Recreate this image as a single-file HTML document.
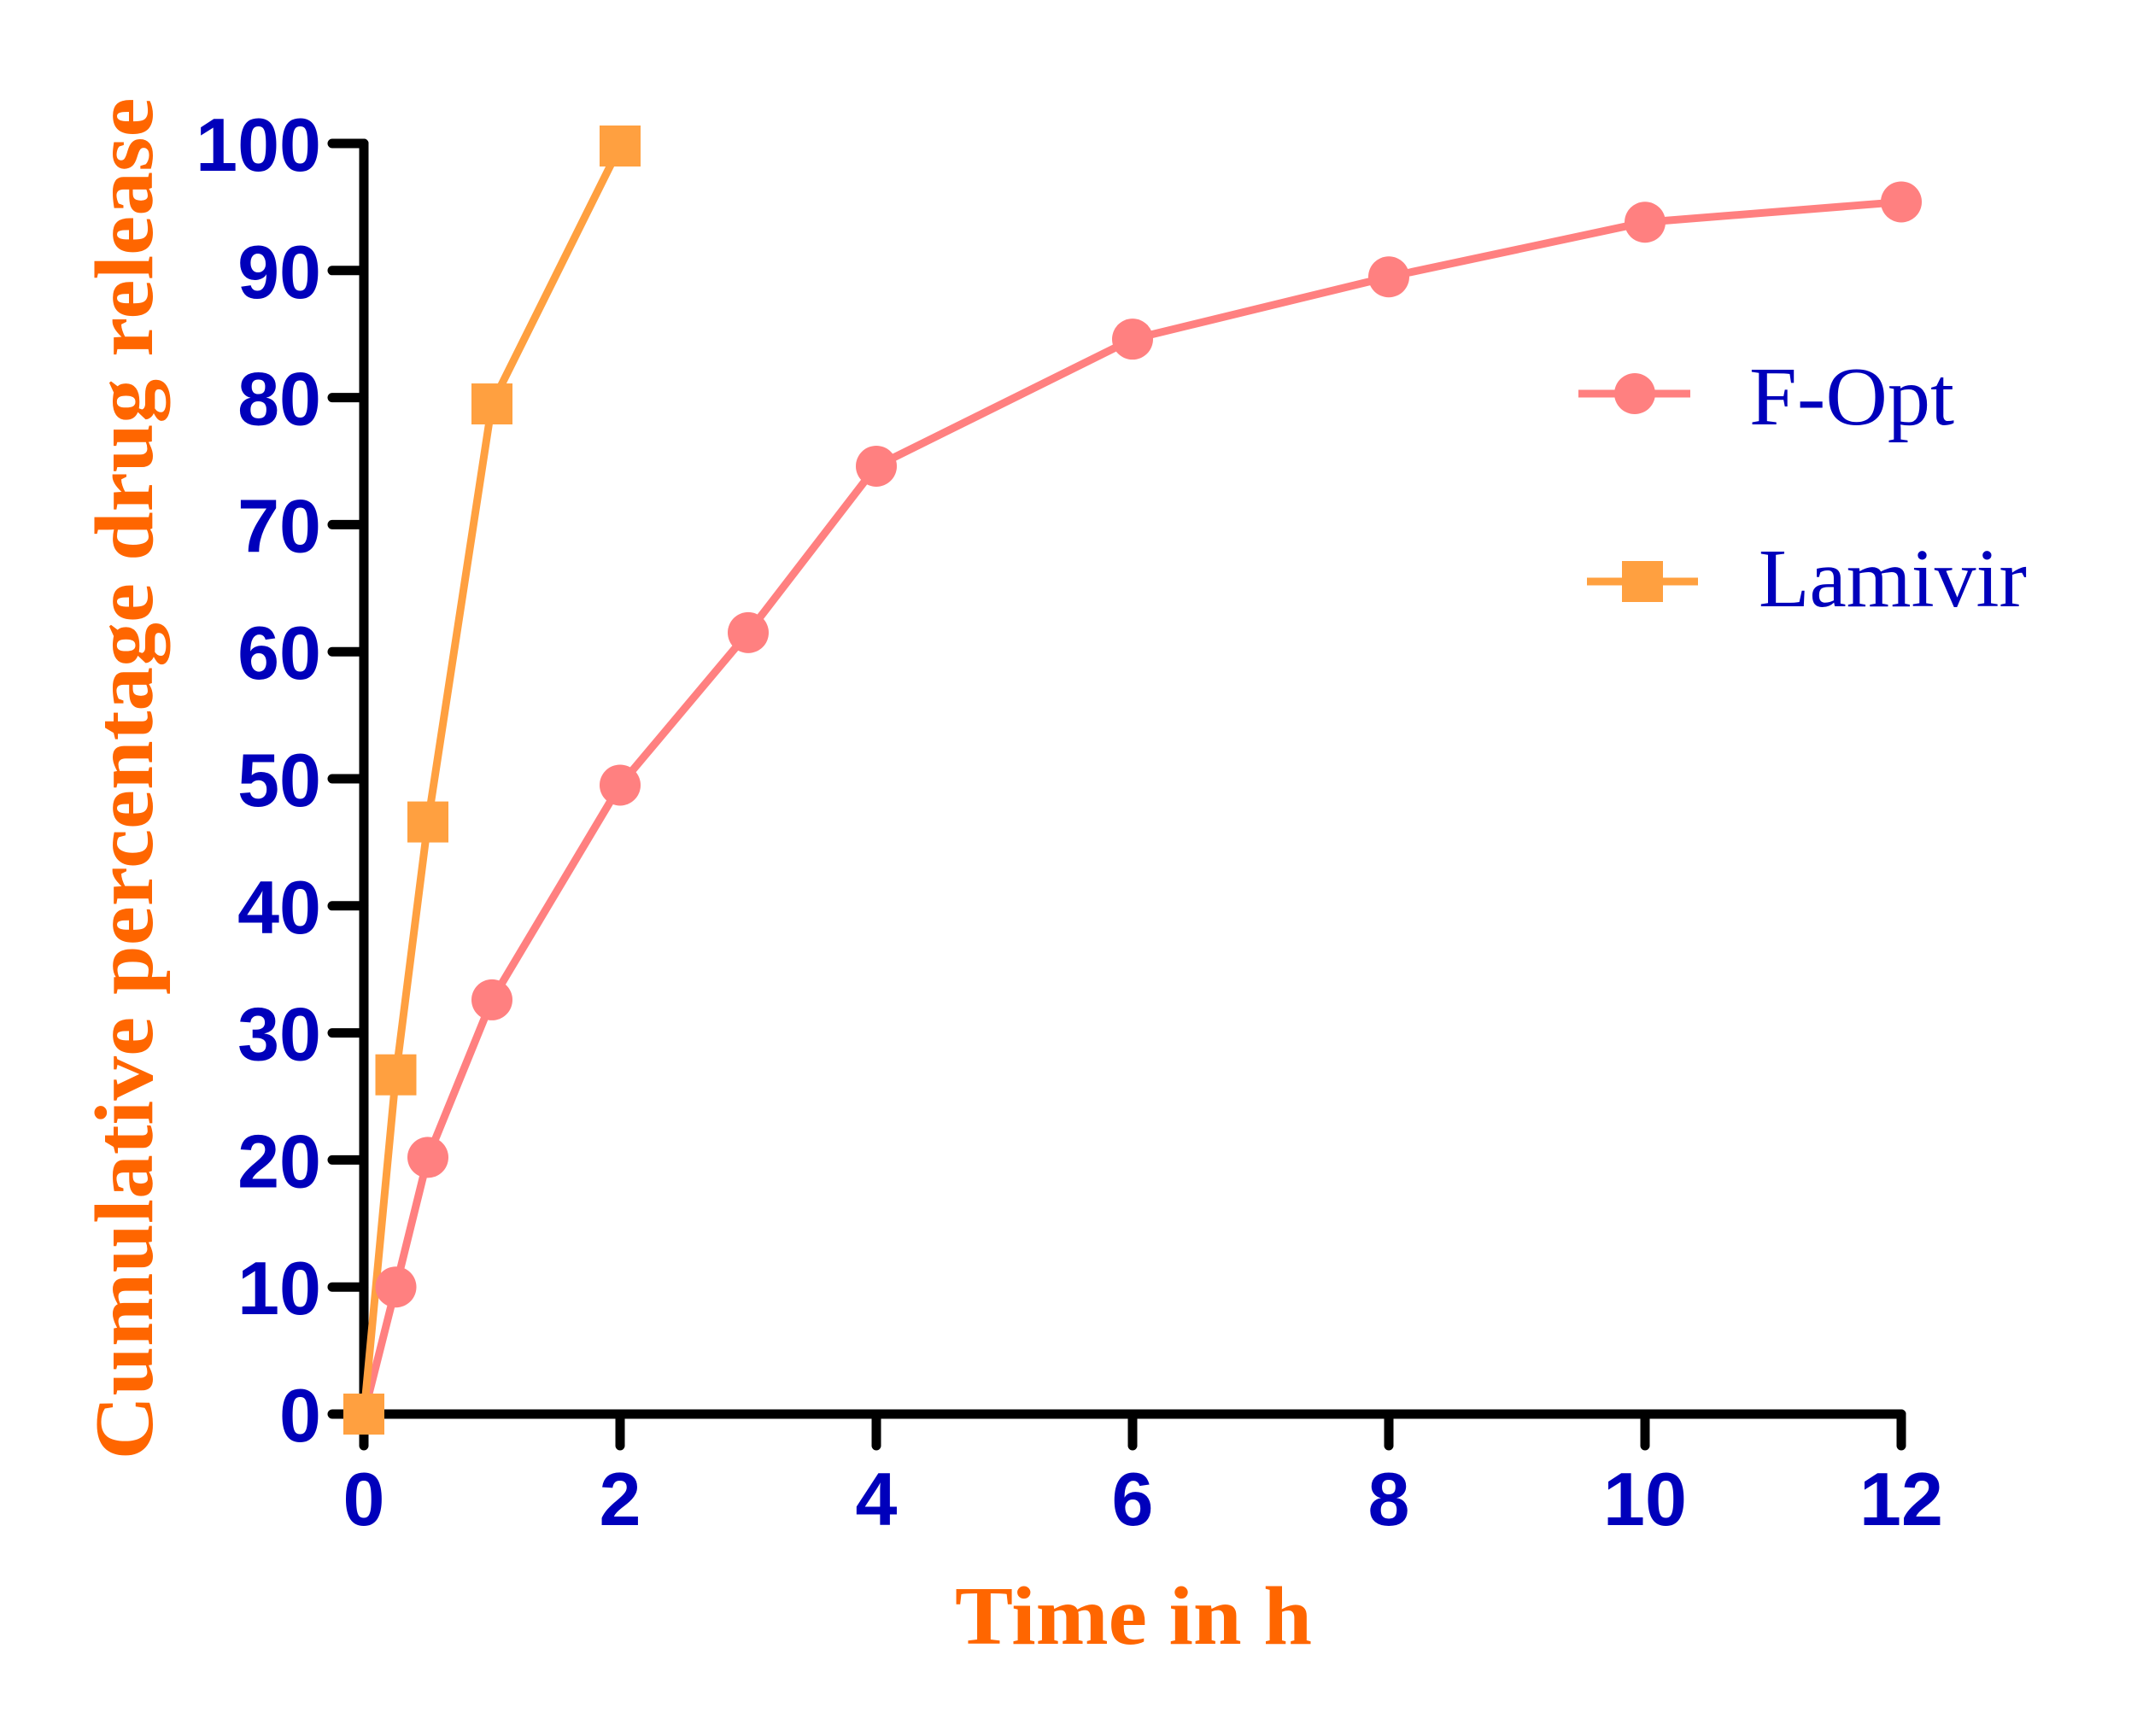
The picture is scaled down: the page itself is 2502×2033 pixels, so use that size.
<!DOCTYPE html>
<html><head><meta charset="utf-8"><style>html,body{margin:0;padding:0;background:#fff}</style></head>
<body>
<svg id="chart" width="2502" height="2028" xmlns="http://www.w3.org/2000/svg">
<g id="axes"></g>
<g id="series"></g>
<text transform="translate(178,912) rotate(-90)" text-anchor="middle" font-family="Liberation Serif, serif" font-weight="bold" font-size="98" fill="#FF6600" textLength="1595" lengthAdjust="spacingAndGlyphs">Cumulative percentage drug release</text>
<text x="1327" y="1925" text-anchor="middle" font-family="Liberation Serif, serif" font-weight="bold" font-size="98" fill="#FF6600" textLength="418" lengthAdjust="spacingAndGlyphs">Time in h</text>
<g>
<line x1="1848" y1="461" x2="1979" y2="461" stroke="#FF8080" stroke-width="9"/>
<circle cx="1914" cy="461" r="24" fill="#FF8080"/>
<text x="2048" y="497" font-family="Liberation Serif, serif" font-size="98" fill="#0000BB" textLength="240" lengthAdjust="spacingAndGlyphs">F-Opt</text>
<line x1="1858" y1="681" x2="1988" y2="681" stroke="#FFA040" stroke-width="9"/>
<rect x="1899" y="657" width="48" height="48" fill="#FFA040"/>
<text x="2059" y="710" font-family="Liberation Serif, serif" font-size="98" fill="#0000BB" textLength="314" lengthAdjust="spacingAndGlyphs">Lamivir</text>
</g>
</svg>
<script>
const xTicks = [0,2,4,6,8,10,12];
const yTicks = [0,10,20,30,40,50,60,70,80,90,100];
const foptX = [0,0.25,0.5,1,2,3,4,6,8,10,12];
const foptY = [0,10,20.2,32.6,49.5,61.5,74.6,84.6,89.5,93.8,95.4];
const lamX = [0,0.25,0.5,1,2];
const lamY = [0,26.7,46.6,79.5,99.8];

const NS='http://www.w3.org/2000/svg';
const X0=426,X1=2226,Y0=1656,Y1=168;
function sx(v){return X0+(v-0)/(12-0)*(X1-X0);}
function sy(v){return Y0-(v-0)/(100-0)*(Y0-Y1);}
function mk(tag,attrs,parent){const e=document.createElementNS(NS,tag);for(const k in attrs)e.setAttribute(k,attrs[k]);parent.appendChild(e);return e;}
const axes=document.getElementById('axes');
const ser=document.getElementById('series');
const ax={stroke:'#000','stroke-width':11,'stroke-linecap':'round'};
let e=mk('path',Object.assign({d:`M${sx(0)},${sy(100)} L${sx(0)},${sy(0)} L${sx(12)},${sy(0)}`,fill:'none','stroke-linejoin':'round'},ax),axes);


xTicks.forEach(t=>{
 const l=mk('line',Object.assign({x1:sx(t),y1:Y0,x2:sx(t),y2:Y0+37},ax),axes);
 
 
 const tx=mk('text',{x:sx(t),y:1786,'text-anchor':'middle','font-family':'Liberation Sans, sans-serif','font-weight':'bold','font-size':'88',fill:'#0000BB'},axes);
 tx.textContent=t;
 
 
});
yTicks.forEach(t=>{
 const l=mk('line',Object.assign({x1:X0-37,y1:sy(t),x2:X0,y2:sy(t)},ax),axes);
 
 
 const tx=mk('text',{x:376,y:sy(t)+32,'text-anchor':'end','font-family':'Liberation Sans, sans-serif','font-weight':'bold','font-size':'88',fill:'#0000BB'},axes);
 tx.textContent=t;
 
 
});
function line(xs,ys,color,name){
 const p=mk('polyline',{points:xs.map((x,i)=>sx(x)+','+sy(ys[i])).join(' '),fill:'none',stroke:color,'stroke-width':9,'stroke-linejoin':'round'},ser);
 
 
}
line(foptX,foptY,'#FF8080','fopt-line');
line(lamX,lamY,'#FFA040','lamivir-line');
foptX.forEach((x,i)=>{
 const c=mk('circle',{cx:sx(x),cy:sy(foptY[i]),r:24,fill:'#FF8080'},ser);
 
 
});
lamX.forEach((x,i)=>{
 const r=mk('rect',{x:sx(x)-24,y:sy(lamY[i])-24,width:48,height:48,fill:'#FFA040'},ser);
 
 
});
</script>
</body></html>
